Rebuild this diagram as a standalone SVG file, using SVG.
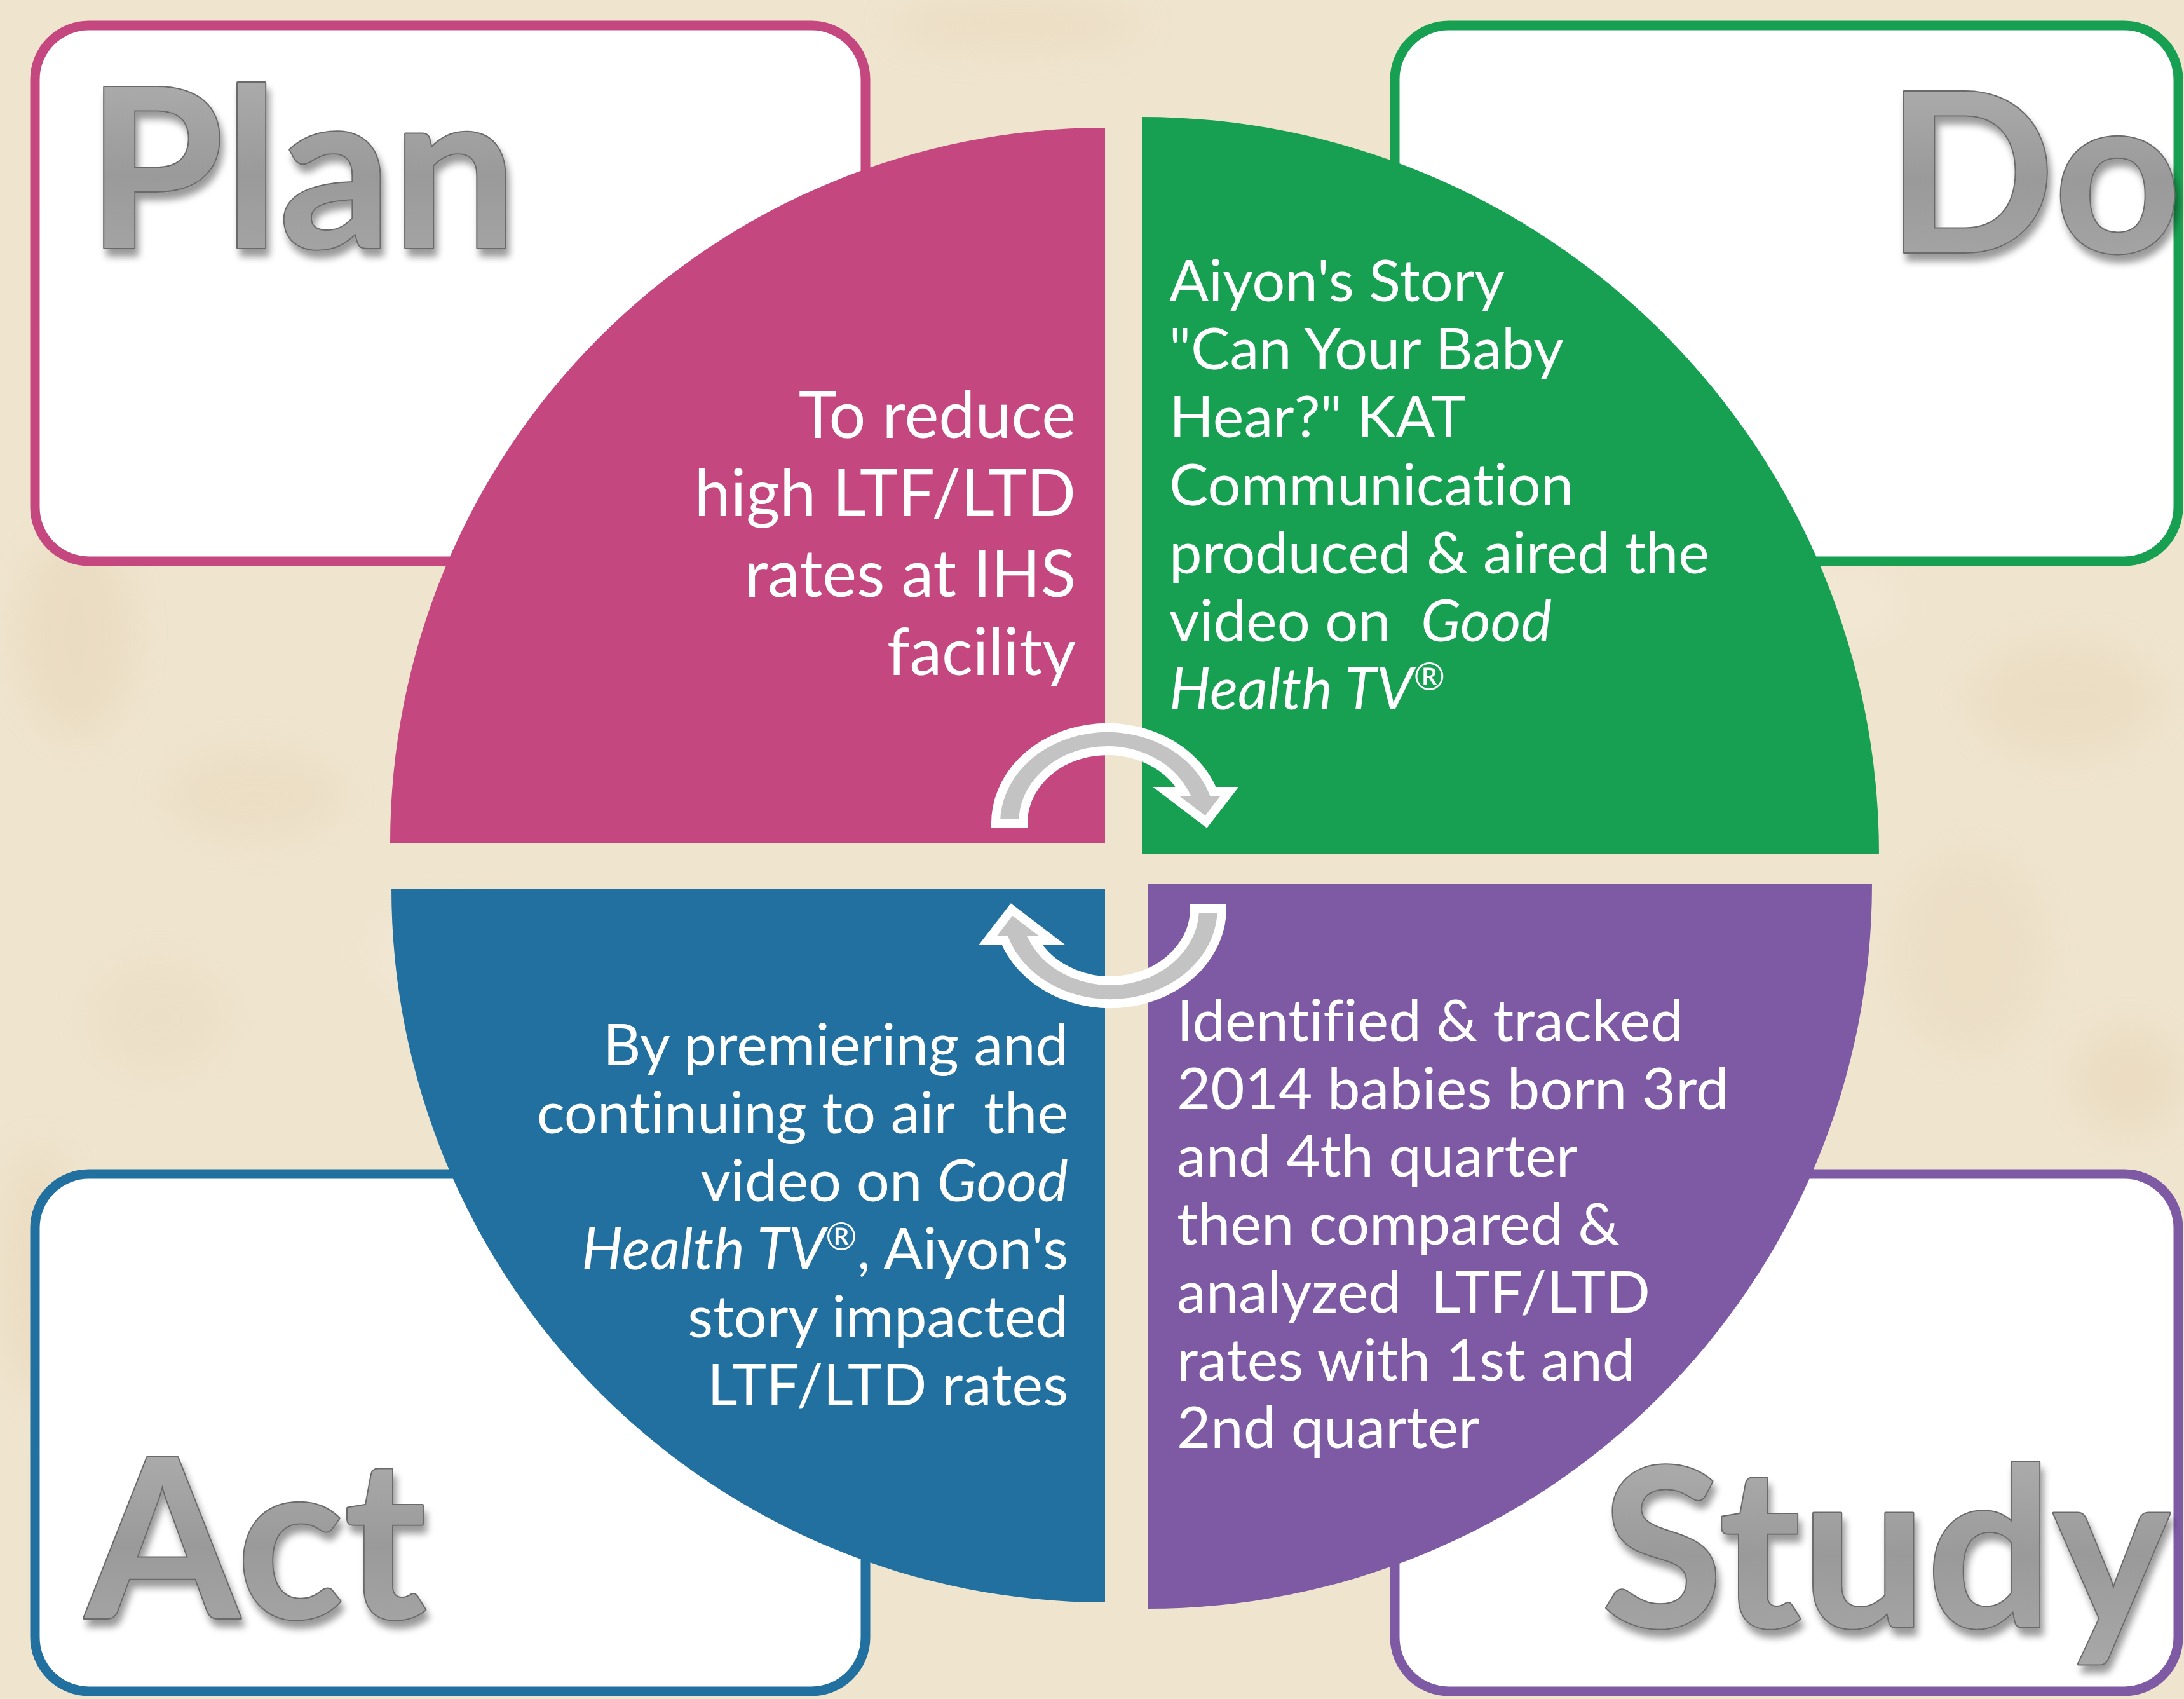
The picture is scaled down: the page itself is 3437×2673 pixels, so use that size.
<svg xmlns="http://www.w3.org/2000/svg" width="3437" height="2673" viewBox="0 0 3437 2673">
<defs>
<style>
.box{fill:#ffffff;stroke-width:15}
.qt{font-family:Lato,'Open Sans','Liberation Sans',sans-serif;fill:#ffffff;font-variant-ligatures:none;font-feature-settings:"liga" 0,"clig" 0}
.big{font-family:Lato,'Open Sans','Liberation Sans',sans-serif;font-weight:700;font-size:350px;fill:url(#lg);stroke:#6a6a6a;stroke-width:4;paint-order:stroke;stroke-linejoin:round;font-variant-ligatures:none}
.arrow{fill:#c3c3c3;stroke:#ffffff;stroke-width:14;stroke-linejoin:miter;stroke-miterlimit:10}
.it{font-style:italic}
</style>
<linearGradient id="lg" x1="0" y1="0" x2="0" y2="1">
<stop offset="0" stop-color="#b4b4b4"/>
<stop offset="0.55" stop-color="#9a9a9a"/>
<stop offset="1" stop-color="#a9a9a9"/>
</linearGradient>
<filter id="sh" x="-10%" y="-15%" width="130%" height="150%">
<feGaussianBlur in="SourceAlpha" stdDeviation="6"/>
<feOffset dx="5" dy="12"/>
<feComponentTransfer><feFuncA type="linear" slope="0.4"/></feComponentTransfer>
<feMerge><feMergeNode/><feMergeNode in="SourceGraphic"/></feMerge>
</filter>
<filter id="blur" x="-50%" y="-50%" width="200%" height="200%"><feGaussianBlur stdDeviation="30"/></filter>
<path id="arr" d="M -176,0 A 176 150 0 0 1 166,-50 L 192,-50 L 155,-2 L 92,-50 L 119.5,-50 A 133 114 0 0 0 -133,0 Z"/>
</defs>

<g id="background">
<rect x="0" y="0" width="3437" height="2673" fill="#efe4ce"/>
<g filter="url(#blur)" opacity="0.35">
<ellipse cx="120" cy="1000" rx="90" ry="160" fill="#e3cfae"/>
<ellipse cx="400" cy="1250" rx="140" ry="70" fill="#e6d4b6"/>
<ellipse cx="250" cy="1600" rx="110" ry="90" fill="#e8d8bc"/>
<ellipse cx="60" cy="2000" rx="60" ry="200" fill="#e4d1b1"/>
<ellipse cx="3250" cy="1100" rx="150" ry="90" fill="#e5d2b2"/>
<ellipse cx="3100" cy="1500" rx="120" ry="160" fill="#e7d6b9"/>
<ellipse cx="3350" cy="1700" rx="80" ry="80" fill="#e3cdab"/>
<ellipse cx="1600" cy="40" rx="200" ry="40" fill="#e6d3b4"/>
<ellipse cx="2900" cy="950" rx="90" ry="60" fill="#f6eedf"/>
<ellipse cx="700" cy="1500" rx="120" ry="80" fill="#f5ecdc"/>
</g>
</g>

<g id="plan-box"><rect class="box" x="55" y="40" width="1307" height="843" rx="85" ry="85" stroke="#c4487f"/></g>
<g id="do-box"><rect class="box" x="2195" y="40" width="1233" height="843" rx="85" ry="85" stroke="#18a052"/></g>
<g id="act-box"><rect class="box" x="55" y="1847" width="1307" height="814" rx="85" ry="85" stroke="#22709f"/></g>
<g id="study-box"><rect class="box" x="2195" y="1847" width="1233" height="814" rx="85" ry="85" stroke="#7e5aa5"/></g>

<g id="plan">
<path d="M 1739,1326 L 614,1326 A 1125 1125 0 0 1 1739,201 Z" fill="#c4487f"/>
<text class="qt" font-size="102" text-anchor="end"><tspan x="1693" y="689">To reduce</tspan><tspan x="1693" y="812">high LTF/LTD</tspan><tspan x="1693" y="939">rates at IHS</tspan><tspan x="1693" y="1062">facility</tspan></text>
</g>

<g id="do">
<path d="M 1797,1344 L 1797,184 A 1160 1160 0 0 1 2957,1344 Z" fill="#18a052"/>
<text class="qt" font-size="92" xml:space="preserve"><tspan x="1840" y="474">Aiyon's Story</tspan><tspan x="1840" y="581">"Can Your Baby</tspan><tspan x="1840" y="688">Hear?" KAT</tspan><tspan x="1840" y="795">Communication</tspan><tspan x="1840" y="902">produced &amp; aired the</tspan><tspan x="1840" y="1009">video on  <tspan class="it">Good</tspan></tspan><tspan x="1840" y="1116" class="it">Health TV<tspan font-size="60" dy="-30">®</tspan></tspan></text>
</g>

<g id="study">
<path d="M 1806,1391 L 2946,1391 A 1140 1140 0 0 1 1806,2531 Z" fill="#7e5aa5"/>
<text class="qt" font-size="92" xml:space="preserve"><tspan x="1852" y="1638">Identified &amp; tracked</tspan><tspan x="1852" y="1745">2014 babies born 3rd</tspan><tspan x="1852" y="1851">and 4th quarter</tspan><tspan x="1852" y="1958">then compared &amp;</tspan><tspan x="1852" y="2065">analyzed  LTF/LTD</tspan><tspan x="1852" y="2172">rates with 1st and</tspan><tspan x="1852" y="2278">2nd quarter</tspan></text>
</g>

<g id="act">
<path d="M 1739,1398 L 1739,2521 A 1123 1123 0 0 1 616,1398 Z" fill="#22709f"/>
<text class="qt" font-size="92" text-anchor="end" xml:space="preserve"><tspan x="1681" y="1676">By premiering and</tspan><tspan x="1681" y="1783">continuing to air  the</tspan><tspan x="1681" y="1890">video on <tspan class="it">Good</tspan></tspan><tspan x="1681" y="1997"><tspan class="it">Health TV</tspan><tspan font-size="60" dy="-30">®</tspan><tspan dy="30">, Aiyon's</tspan></tspan><tspan x="1681" y="2104">story impacted</tspan><tspan x="1681" y="2211">LTF/LTD rates</tspan></text>
</g>

<g id="connectors">
<use href="#arr" class="arrow" transform="translate(1743,1295)"/>
<use href="#arr" class="arrow" transform="translate(1747,1429) rotate(180)"/>
</g>

<g id="labels" filter="url(#sh)">
<text id="label-plan" class="big" x="136" y="390">Plan</text>
<text id="label-do" class="big" x="2968" y="397">Do</text>
<text id="label-act" class="big" x="134" y="2546">Act</text>
<text id="label-study" class="big" x="2520" y="2560">Study</text>
</g>
</svg>
